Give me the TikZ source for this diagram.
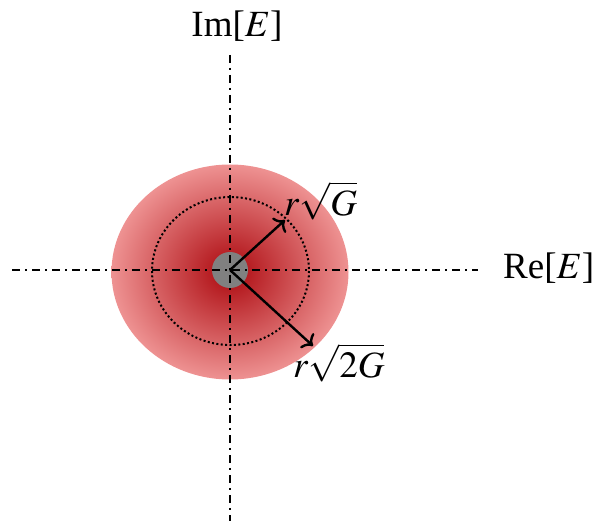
\documentclass[tikz,border=0pt]{standalone}
\usepackage{mathptmx}
\usepackage{fontspec}
\setmainfont{Liberation Serif}
\usetikzlibrary{arrows.meta}
\definecolor{innerred}{RGB}{172,8,14}
\definecolor{outerred}{RGB}{238,146,146}
\definecolor{dotgray}{RGB}{128,128,128}
\tikzset{
  axisline/.style={line width=2pt, dash pattern=on 8pt off 5pt on 2pt off 5pt},
  radiusarrow/.style={line width=2.4pt, -{To[length=9pt,width=20pt,line width=2.4pt]}},
  lbl/.style={inner sep=0pt, font=\fontsize{37}{40}\selectfont},
}
\begin{document}
\begin{tikzpicture}[x=1pt,y=-1pt]
\useasboundingbox (0,0) rectangle (604,521);
\coordinate (O) at (230,270);
\shade[inner color=innerred, outer color=outerred] (230,272) ellipse [x radius=118.5, y radius=107.5];
\draw[line width=2pt, dash pattern=on 2pt off 2.4pt] (230.5,271) ellipse [x radius=78.5, y radius=74];
\fill[dotgray] (O) circle [radius=18];
\coordinate (xl) at (12,270);
\coordinate (xr) at (478,270);
\coordinate (yt) at (230,55);
\coordinate (yb) at (230,521);
\draw[axisline] (xl) -- (xr);
\draw[axisline] (yt) -- (yb);
\coordinate (a1) at (285,220);
\coordinate (a2) at (313,346);
\draw[radiusarrow] (O) -- (a1);
\draw[radiusarrow] (O) -- (a2);
\node[lbl, anchor=base west] (lg) at (284,215) {$r\sqrt{G}$};
\node[lbl, anchor=base west] (l2g) at (293,377) {$r\sqrt{2G}$};
\node[lbl, anchor=base] (im) at (237,37) {Im[$E$]};
\node[lbl, anchor=base west] (re) at (503,278) {Re[$E$]};
\end{tikzpicture}
\end{document}
